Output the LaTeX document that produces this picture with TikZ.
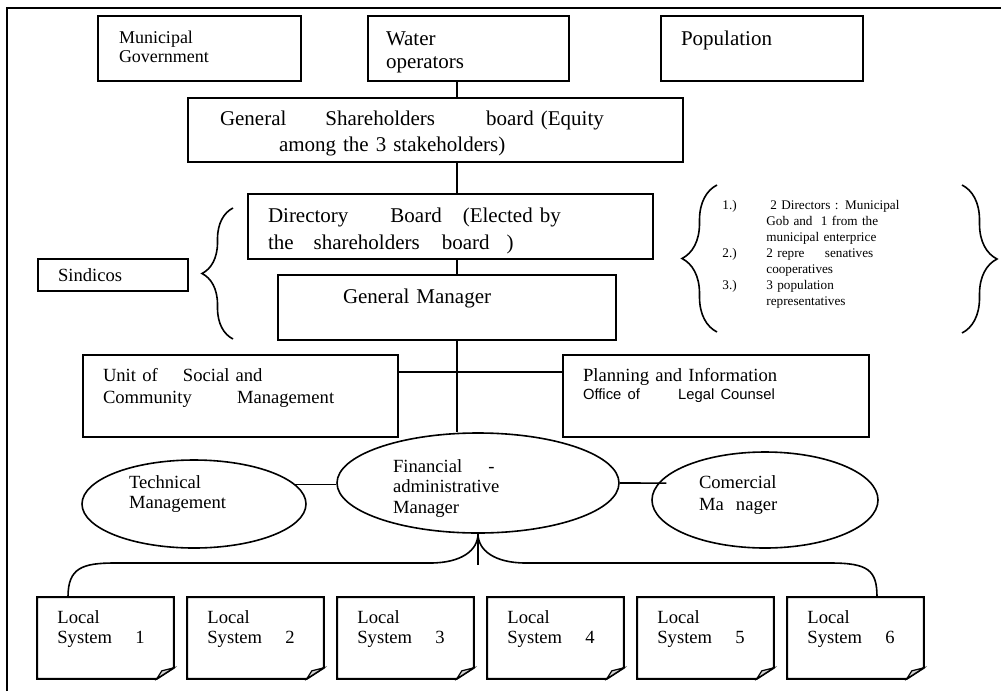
\documentclass[tikz,border=0pt]{standalone}
\usepackage{fontspec}
\setmainfont{Liberation Serif}
\newfontfamily\officefont{Liberation Sans}
\usepackage{tikz}
\usetikzlibrary{shapes.geometric,decorations.pathreplacing}
\tikzstyle{box} = [draw, line width=1pt, anchor=north west, inner ysep=0pt, align=left]
\tikzstyle{oval} = [draw, ellipse, line width=0.8pt, inner sep=0pt, align=left]
\tikzstyle{conn} = [line width=0.8pt]
\tikzstyle{curly} = [line width=0.8pt, decorate, decoration={brace}]
\tikzstyle{page} = [anchor=north west, inner ysep=0pt, inner xsep=10pt, align=left, text width=48pt, text height=13pt, text depth=27.5pt, font=\fontsize{9.3}{10}\selectfont, append after command={\pgfextra{\let\pagenode\tikzlastnode
	\draw[line width=1pt] (\pagenode.north west) -- (\pagenode.north east) -- ([yshift=5.5pt]\pagenode.south east) -- ([xshift=-8.5pt]\pagenode.south east) -- (\pagenode.south west) -- cycle;
	\filldraw[fill=gray!35, line width=0.6pt] ([yshift=5.5pt]\pagenode.south east) -- ([xshift=-6pt,yshift=4pt]\pagenode.south east) -- ([xshift=-8.5pt]\pagenode.south east) -- cycle;}}]

\begin{document}
\begin{tikzpicture}[x=0.5pt, y=-0.5pt]

	\useasboundingbox (0,0) rectangle (1001,691);
	\draw[line width=1pt] (7,691) -- (7,8) -- (1001,8);
	\coordinate (spine) at (457,0);

	% stakeholders
	\node[box, text width=80.5pt, inner xsep=10.5pt, text height=13.5pt, text depth=19pt, font=\fontsize{9}{9.5}\selectfont] (muni) at (97,15) {Municipal\\Government};
	\node[box, text width=82.5pt, inner xsep=9pt, text height=14.5pt, text depth=18pt, font=\fontsize{10.5}{11.5}\selectfont] (water) at (367,15) {Water\\operators};
	\node[box, text width=81pt, inner xsep=10pt, text height=14.5pt, text depth=18pt, font=\fontsize{10.5}{11.5}\selectfont] (popu) at (660,15) {Population};

	% boards
	\node[box, text width=215.5pt, inner xsep=16pt, text height=13.5pt, text depth=18.5pt, font=\fontsize{10.5}{13}\selectfont] (share) at (187,97) {General\hspace{16pt} Shareholders\hspace{22pt} board (Equity\\\hspace*{29.5pt}among the 3 stakeholders)};
	\node[box, text width=182.5pt, inner xsep=10pt, text height=14pt, text depth=18.5pt, font=\fontsize{10.5}{13.5}\selectfont] (dir) at (247,193) {Directory\hspace{17.5pt} Board\hspace{7pt} (Elected by\\the\hspace{6.5pt} shareholders\hspace{7.5pt} board\hspace{5pt} )};
	\node[box, text width=104pt, inner xsep=32.5pt, text height=14pt, text depth=18.5pt, font=\fontsize{10.5}{13}\selectfont] (gm) at (277,274) {General Manager};
	\node[box, text width=55pt, inner xsep=10pt, text height=11pt, text depth=5pt, font=\fontsize{9.3}{11}\selectfont] (sind) at (37,258) {Sindicos};
	\node[box, text width=137.5pt, inner xsep=10pt, text height=13pt, text depth=28pt, font=\fontsize{9.3}{11}\selectfont] (unit) at (82,354) {Unit of\hspace{9.5pt} Social and\\Community\hspace{19.5pt} Management};
	\node[box, text width=133pt, inner xsep=10pt, text height=13pt, text depth=28pt, font=\fontsize{9.3}{9}\selectfont] (plan) at (562,354) {Planning and Information\\{\officefont\fontsize{7.4}{9}\selectfont Office of\hspace{16pt} Legal Counsel}};

	% managers
	\node[oval, minimum width=112pt, minimum height=44pt, text width=65pt, text height=7pt, text depth=23pt, font=\fontsize{9.3}{10}\selectfont] (tech) at (194,504) {Technical\\Management};
	\node[oval, minimum width=141pt, minimum height=50pt, text width=85pt, text height=7pt, text depth=18pt, font=\fontsize{9.3}{10.25}\selectfont] (fin) at (478,483) {Financial\hspace{10pt} -\\administrative\\Manager};
	\node[oval, minimum width=113pt, minimum height=48pt, text width=66pt, text height=7pt, text depth=19pt, font=\fontsize{9.3}{11}\selectfont] (com) at (765,500) {Comercial\\Ma\hspace{3pt} nager};

	% local systems
	\node[page] (ls1) at (37,597) {Local\\System\hspace{8.5pt} 1};
	\node[page] (ls2) at (187,597) {Local\\System\hspace{8.5pt} 2};
	\node[page] (ls3) at (337,597) {Local\\System\hspace{8.5pt} 3};
	\node[page] (ls4) at (487,597) {Local\\System\hspace{8.5pt} 4};
	\node[page] (ls5) at (637,597) {Local\\System\hspace{8.5pt} 5};
	\node[page] (ls6) at (787,597) {Local\\System\hspace{8.5pt} 6};

	% directory members
	\node[anchor=base west, text width=130pt, inner sep=0pt, align=left, font=\fontsize{6.6}{8}\selectfont] (members) at (722,209) {\makebox[22pt][l]{1.)}\hspace{2pt}2 Directors : Municipal\\\hspace*{22pt}Gob and\hspace{2pt} 1 from the\\\hspace*{22pt}municipal enterprice\\\makebox[22pt][l]{2.)}2 repre\hspace{8pt} senatives\\\hspace*{22pt}cooperatives\\\makebox[22pt][l]{3.)}3 population\\\hspace*{22pt}representatives};

	\draw[conn] (water.south -| spine) -- (share.north -| spine);
	\draw[conn] (share.south -| spine) -- (dir.north -| spine);
	\draw[conn] (dir.south -| spine) -- (gm.north -| spine);
	\draw[conn] (gm.south -| spine) -- (fin.north -| spine);
	\coordinate (link) at ([yshift=12pt]unit.east);
	\draw[conn] (link) -- (link -| plan.west);
	\draw[conn] (tech.11) -- (fin.west |- tech.11);
	\draw[conn] (fin.east) -- ([xshift=4pt]com.171);

	\draw[curly, decoration={brace, amplitude=15.5pt}] (233,339) -- (233,208);
	\draw[curly, decoration={brace, amplitude=17.5pt}] (717,332) -- (717,185);
	\draw[curly, decoration={brace, amplitude=17.5pt}] (962,185) -- (962,333);

	\coordinate (stem) at (478,565);
	\draw[conn] ([xshift=15.5pt]ls1.north west) .. controls (68,568) and (82,563) .. (115,563) -- (430,563) .. controls (462,563) and (478,550) .. (fin.south) .. controls (478,550) and (494,563) .. (526,563) -- (830,563) .. controls (868,563) and (877,570) .. ([xshift=45pt]ls6.north west);
	\draw[conn] (fin.south) -- (stem);

\end{tikzpicture}
\end{document}
